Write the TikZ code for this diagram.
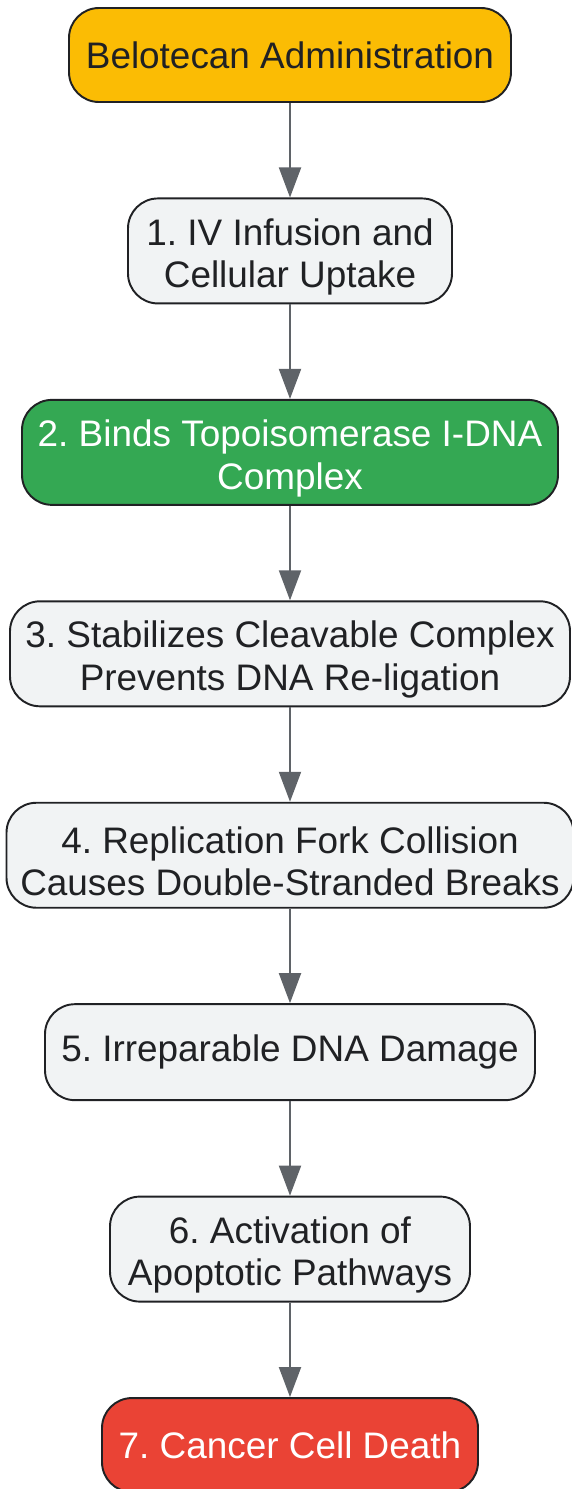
\documentclass[tikz,border=0pt]{standalone}
\usepackage{fontspec}
\setmainfont{Liberation Sans}
\frenchspacing
\usepackage{xcolor}
\usetikzlibrary{shapes,arrows,positioning,calc,arrows.meta}

\definecolor{stepgray}{HTML}{F1F3F4}
\definecolor{stepgreen}{HTML}{34A853}
\definecolor{stepred}{HTML}{EA4335}
\definecolor{steporange}{HTML}{FBBC04}
\definecolor{edgedark}{HTML}{202124}
\definecolor{arrowgray}{HTML}{5F6368}

\begin{document}
\begin{tikzpicture}[
    node distance=1.89cm,
    stepbox/.style={draw=edgedark, line width=1.1pt, rounded corners=0.6cm, fill=stepgray,
        text=edgedark, align=center, inner sep=0pt, minimum height=1.9cm,
        font=\fontsize{21}{24.2}\selectfont},
    twoline/.style={minimum height=2.1cm, execute at begin node={\rule{0pt}{1.62cm}}},
    flow/.style={draw=arrowgray, line width=1.1pt, -{Triangle[length=0.6cm,width=0.44cm]}}
]
    \useasboundingbox (0,0) rectangle (11.44,-29.78);

    % Start
    \node[stepbox, fill=steporange, minimum width=8.84cm, minimum height=1.88cm] (start) at (5.8,-1.1) {Belotecan Administration};

    % Steps
    \node[stepbox, twoline, minimum width=6.48cm, below=of start] (uptake) {1. IV Infusion and\\Cellular Uptake};
    \node[stepbox, twoline, fill=stepgreen, text=white, minimum width=10.72cm, below=of uptake] (binds) {2. Binds Topoisomerase I-DNA\\Complex};
    \node[stepbox, twoline, minimum width=11.2cm, below=of binds] (stabil) {3. Stabilizes Cleavable Complex\\Prevents DNA Re-ligation};
    \node[stepbox, twoline, minimum width=11.34cm, below=of stabil] (fork) {4. Replication Fork Collision\\Causes Double-Stranded Breaks};
    \node[stepbox, minimum width=9.8cm, minimum height=1.92cm, below=of fork] (damage) {5. Irreparable DNA Damage};
    \node[stepbox, twoline, minimum width=7.2cm, below=of damage] (apopt) {6. Activation of\\Apoptotic Pathways};

    % End
    \node[stepbox, fill=stepred, text=white, minimum width=7.52cm, minimum height=1.88cm, below=of apopt] (death) {7. Cancer Cell Death};

    \draw[flow] (start) -- (uptake);
    \draw[flow] (uptake) -- (binds);
    \draw[flow] (binds) -- (stabil);
    \draw[flow] (stabil) -- (fork);
    \draw[flow] (fork) -- (damage);
    \draw[flow] (damage) -- (apopt);
    \draw[flow] (apopt) -- (death);
\end{tikzpicture}
\end{document}
